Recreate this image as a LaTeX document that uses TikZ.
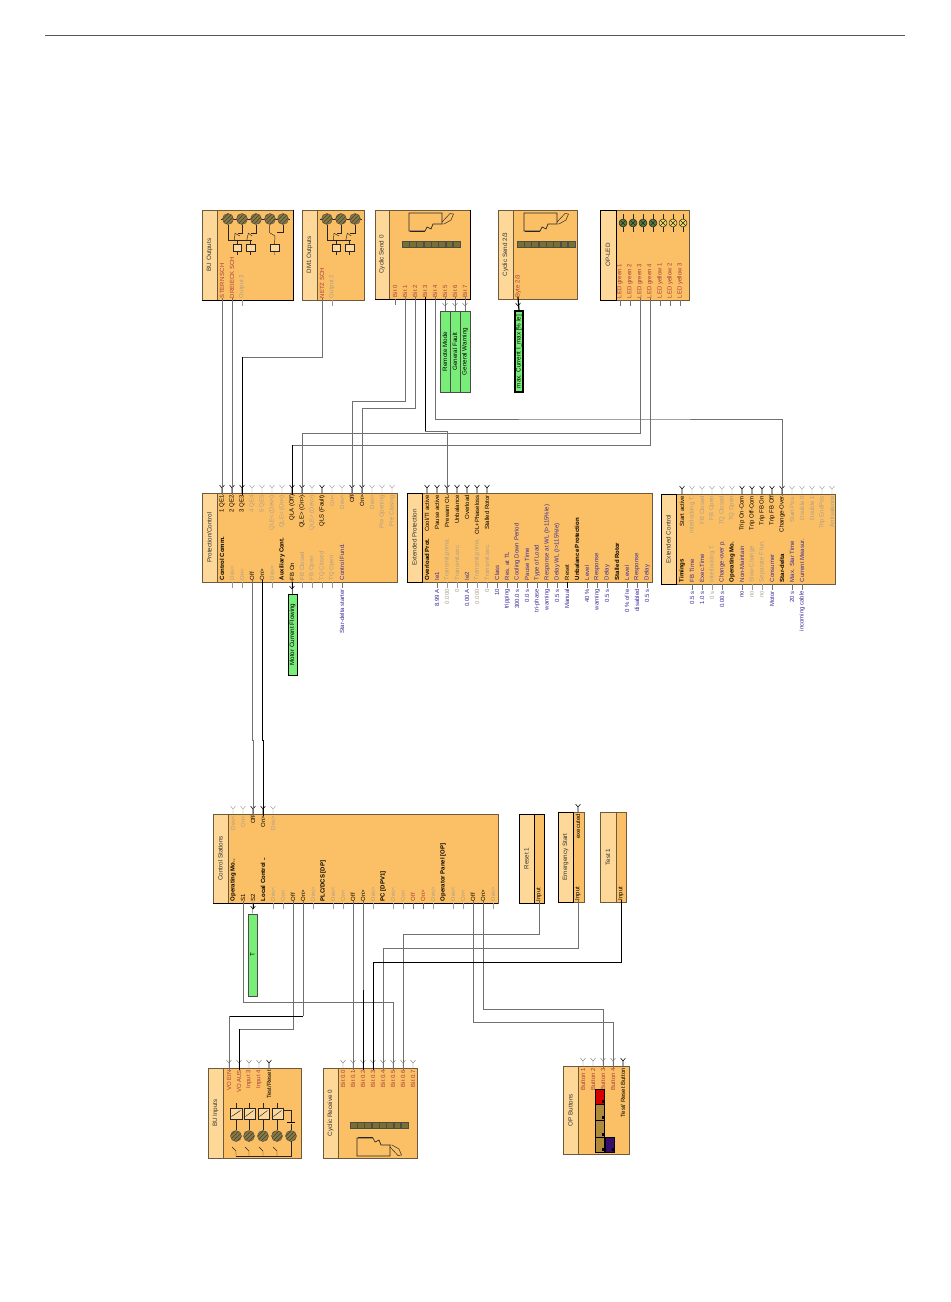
\documentclass[tikz,border=0pt]{standalone}
\usepackage{fontspec}
\setmainfont{Liberation Sans}
\usetikzlibrary{patterns}

\definecolor{bodyfill}{HTML}{FBC066}
\definecolor{stripfill}{HTML}{FDD898}
\definecolor{edgebr}{HTML}{6E5A3A}
\definecolor{flagfill}{HTML}{78EE78}
\definecolor{redlab}{HTML}{A83C3C}
\definecolor{bluelab}{HTML}{3A2A96}
\definecolor{greylab}{HTML}{AC9E8A}
\definecolor{wiregrey}{HTML}{707070}
\definecolor{relayfill}{HTML}{8C7A3C}
\definecolor{bitfill}{HTML}{77702E}
\definecolor{btnfill}{HTML}{B08A3C}
\definecolor{btnpurple}{HTML}{35106A}
\definecolor{ledgreen}{HTML}{5A7A3A}
\definecolor{ledyellow}{HTML}{F2D860}

% ports at the top edge of a block: prefix, edge, x/label/style
\newcommand{\topports}[3]{
  \foreach \x/\lb/\cl in {#3}{
    \node[lab,\cl,anchor=east] (#1\x) at (\x,#2+2) {\lb};
    \draw[pin\cl] (\x,#2) -- (\x,#2-5) -- +(-2.5,-3) (\x,#2-5) -- +(2.5,-3);
  }
}
% ports at the bottom edge of a block
\newcommand{\lowports}[3]{
  \foreach \x/\lb/\cl in {#3}{
    \node[lab,\cl,anchor=west] (#1\x) at (\x,#2-2) {\lb};
    \draw[pin\cl] (\x,#2) -- (\x,#2+6);
  }
}
% parameter values below a block
\newcommand{\valports}[3]{
  \foreach \x/\vl/\cl in {#3}
    \node[lab,\cl,anchor=east] (#1\x) at (\x,#2+7) {\vl};
}
\newcommand{\pinv}[3]{\draw[#3] (#1,#2) -- +(-2.5,-3) (#1,#2) -- +(2.5,-3);}

\begin{document}
\begin{tikzpicture}[
  x=.75pt,
  y=-.75pt,
  lab/.style={rotate=90, inner sep=0, outer sep=0, font=\fontsize{4.5}{5}\selectfont},
  title/.style={rotate=90, inner sep=0, text=black!80, font=\fontsize{4.7}{5}\selectfont},
  dk/.style={text=black},
  hd/.style={text=black, font=\fontsize{4.5}{5}\selectfont\bfseries},
  gy/.style={text=greylab},
  rd/.style={text=redlab},
  bl/.style={text=bluelab},
  pindk/.style={draw=black, line width=.4pt},
  pingy/.style={draw=black!40, line width=.3pt},
  pinrd/.style={draw=black!55, line width=.3pt},
  pinbl/.style={draw=black!55, line width=.3pt},
  pinhd/.style={draw=none},
  wire/.style={draw=wiregrey, line width=.5pt},
  wirek/.style={draw=black, line width=.7pt},
  flag/.style={draw=black!70, fill=flagfill, rotate=90, inner sep=0, line width=.5pt,
    font=\fontsize{4.7}{5}\selectfont},
  icon/.style={draw=black!85, line width=.35pt},
  relay/.style={draw=black!70, line width=.3pt, preaction={fill=relayfill},
    pattern=north east lines, pattern color=black!75},
  coil/.style={icon, fill=stripfill}
  ]

  \useasboundingbox (0,0) rectangle (950,1302);
  \draw[black!65, line width=.6pt] (45,35) -- (905,35);

  % blocks: name/left/divider/right/top/bottom/edge/title
  \foreach \nm/\xa/\xb/\xc/\ya/\yb/\ed/\ttl in {
    bo/202/217/293/210/300/edgebr/BU Outputs,
    dm/302/317/364/210/300/edgebr/DM1 Outputs,
    cs/375/389/470/210/299/edgebr/Cyclic Send 0,
    cc/498/513/577/210/299/edgebr/{Cyclic Send 2/3},
    ol/600/616/689/210/300/black/OP-LED,
    pc/202/217/397/493/582/edgebr/{Protection/Control},
    ep/407/422/652/493/582/black/Extended Protection,
    ec/661/676/835/494/584/black/Extended Control,
    st/213/228/498/814/903/edgebr/Control Stations,
    rs/519/534/544/814/903/black/Reset 1,
    es/558/573/584/812/902/black/Emergency Start,
    ts/600/616/626/812/902/edgebr/Test 1,
    ib/208/223/301/1068/1158/edgebr/BU Inputs,
    cr/323/338/417/1068/1158/edgebr/Cyclic Receive 0,
    ob/563/578/629/1066/1154/edgebr/OP Buttons}{
    \draw[edgebr, fill=bodyfill, line width=.5pt] (\xa,\ya) rectangle (\xc,\yb);
    \draw[\ed, fill=stripfill, line width=.5pt] (\xa,\ya) rectangle (\xb,\yb);
    \node[title] (\nm) at ({(\xa+\xb)/2},{(\ya+\yb)/2}) {\ttl};
  }
  \draw[black, line width=.5pt] (519,814) rectangle (544,903);
  \draw[black, line width=.6pt] (213,903) -- (498,903);
  \draw[black, line width=.5pt] (293,210) -- (293,300) -- (202,300);
  \draw[black, line width=.5pt] (470,210) -- (470,299) -- (375,299);

  % ports
  \lowports{bo}{300}{222/STERN SCH/rd,232/DREIECK SCH/rd,242/Output 3/gy}
  \lowports{dm}{300}{322/NETZ SCH/rd,332/Output 2/gy}
  \lowports{cs}{299}{395/Bit 0/rd,405/Bit 1/rd,415/Bit 2/rd,425/Bit 3/rd,435/Bit 4/rd,445/Bit 5/rd,455/Bit 6/rd,465/Bit 7/rd}
  \lowports{cc}{299}{518/{Byte 2/3}/rd}
  \lowports{ol}{300}{620/LED green 1/rd,630/LED green 2/rd,640/LED green 3/rd,650/LED green 4/rd,660/LED yellow 1/rd,670/LED yellow 2/rd,680/LED yellow 3/rd}

  \topports{pc}{493}{222/1 QE1/dk,232/2 QE2/dk,242/3 QE3/dk,252/4 QE4/gy,262/5 QE5/gy,272/QLE< (Dev<)/gy,282/QLE< (On<)/gy,292/QLA (Off)/dk,302/QLE> (On>)/dk,312/QLE> (Dev>)/gy,322/QLS (Fault)/dk,332/On</gy,342/Dev</gy,352/Off/dk,362/On>/dk,372/Dev>/gy,382/Pre Opening/gy,392/Pre Closing/gy}
  \lowports{pd}{582}{222/Control Comm./hd,232/Dev</gy,242/On</gy,252/Off/dk,262/On>/dk,272/Dev>/gy,282/Auxiliary Cont./hd,292/FB On/dk,302/FB Closed/gy,312/FB Open/gy,322/TQ Closed/gy,332/TQ Open/gy,342/Control Fund./bl}
  \valports{pv}{582}{342/Star-delta starter/bl}

  \topports{ep}{493}{427/{Cool/TI active}/dk,437/Pause active/dk,447/Prewarn OL/dk,457/Unbalance/dk,467/Overload/dk,477/OL+Phaseloss/dk,487/Stalled Rotor/dk}
  \lowports{eq}{582}{427/Overload Prot./hd,437/Ie1/bl,447/Transmit.prima./gy,457/Transmit.sec./gy,467/Ie2/bl,477/Transmit.prima./gy,487/Transmit.sec./gy,497/Class/bl,507/Res. at TL/bl,517/Cooling Down Period/bl,527/Pause Time/bl,537/Type of Load/bl,547/Response at WL (I>115\%Ie)/bl,557/Delay WL (I>115\%Ie)/bl,567/Reset/dk,577/Unbalance Protection/hd,587/Level/bl,597/Response/bl,607/Delay/bl,617/Stalled Rotor/hd,627/Level/bl,637/Response/bl,647/Delay/bl}
  \valports{ev}{582}{437/8.99 A/bl,447/0.000/gy,457/0/gy,467/0.00 A/bl,477/0.000/gy,487/0/gy,497/10/bl,507/tripping/bl,517/300.0 s/bl,527/0.0 s/bl,537/tri-phase/bl,547/warning/bl,557/0.5 s/bl,567/Manual/bl,587/40 \%/bl,597/warning/bl,607/0.5 s/bl,627/0 \% of Ie/bl,637/disabled/bl,647/0.5 s/bl}

  \topports{ec}{494}{682/Start active/dk,692/Interlocking T./gy,702/FB Closed/gy,712/FB Open/gy,722/TQ Closed/gy,732/TQ Open/gy,742/Trip On-Com/dk,752/Trip Off-Com/dk,762/Trip FB On/dk,772/Trip FB Off/dk,782/Change-Over/dk,792/Start Pos./gy,802/Double 0/gy,812/Double 1/gy,822/Trip EndPos/gy,832/Antivalence/gy}
  \lowports{ed}{584}{682/Timings/hd,692/FB Time/bl,702/Exec.Time/bl,712/Interlocking T./gy,722/Change-over p./bl,732/Operating Mo./hd,742/Non-Maintain/bl,752/Slow-Change/gy,762/Separate F fun./gy,772/Consumer/bl,782/Star-delta/hd,792/Max. Star Time/bl,802/Current Measur./bl}
  \valports{ew}{584}{692/0.5 s/bl,702/1.0 s/bl,712/0 s/gy,722/0.00 s/bl,742/no/bl,752/no/gy,762/no/gy,772/Motor/bl,792/20 s/bl,802/incoming cable/bl}

  \topports{su}{814}{233/Dev</gy,243/On</gy,253/Off/dk,263/On>/dk,273/Dev>/gy}
  \lowports{st}{903}{233/Operating Mo../hd,243/S1/dk,253/S2/dk,263/Local Control ../hd,273/Dev</gy,283/On</gy,293/Off/dk,303/On>/dk,313/Dev>/gy,323/{PLC/DCS [DP]}/hd,333/Dev</gy,343/On</gy,353/Off/dk,363/On>/dk,373/Dev>/gy,383/PC [DPV1]/hd,393/Dev</gy,403/On</gy,413/Off/rd,423/On>/rd,433/Dev>/gy,443/Operator Panel [OP]/hd,453/Dev</gy,463/On</gy,473/Off/dk,483/On>/dk,493/Dev>/gy}

  \lowports{rs}{903}{539/Input/dk}
  \lowports{es}{902}{578/Input/dk}
  \topports{eu}{812}{578/executed/dk}
  \lowports{ts}{902}{621/Input/dk}

  \topports{ib}{1068}{229/VO EIN/rd,239/VO AUS/rd,249/Input 3/rd,259/Input 4/rd,269/{Test/Reset}/dk}
  \topports{cr}{1068}{343/Bit 0.0/rd,353/Bit 0.1/rd,363/Bit 0.2/rd,373/Bit 0.3/rd,383/Bit 0.4/rd,393/Bit 0.5/rd,403/Bit 0.6/rd,413/Bit 0.7/rd}
  \topports{ob}{1066}{583/Button 1/rd,593/Button 2/rd,603/Button 3/rd,613/Button 4/rd,623/{Test/ Reset Button}/dk}

  % green signal flags
  \node[flag, minimum width=60.75pt, minimum height=7.5pt] (remote) at (445,351.5) {Remote Mode};
  \node[flag, minimum width=60.75pt, minimum height=7.5pt] (fault) at (455,351.5) {General Fault};
  \node[flag, minimum width=60.75pt, minimum height=7.5pt] (warning) at (465,351.5) {General Warning};
  \node[flag, draw=black, line width=.8pt, minimum width=60.75pt, minimum height=6pt] (maxcur) at (519,351.5) {max. Current I\_max [\% Ie]};
  \node[flag, draw=black, minimum width=60.75pt, minimum height=6.75pt] (motor) at (292.5,634.5) {Motor Current Flowing};
  \node[flag, minimum width=61.5pt, minimum height=6.75pt] (tflag) at (252.5,955) {T};

  \path[pinrd] (cs445.west) edge (remote.east) (cs455.west) edge (fault.east) (cs465.west) edge (warning.east);
  \pinv{445}{306}{pinrd} \pinv{455}{306}{pinrd} \pinv{465}{306}{pinrd}
  \draw[black, line width=.9pt] (cc518.west) -- (maxcur.east);
  \pinv{518}{306}{pindk}
  \draw[pindk] (pd292.west) -- (motor.east);
  \pinv{292}{589}{pindk}
  \draw[pinrd] (st253.west) -- (tflag.east);
  \pinv{253}{909}{pindk}

  % upper connectors
  \draw[wire] (bo222.west) -- (pc222.east);
  \draw[wire] (bo232.west) -- (pc232.east);
  \coordinate (netzbend) at (242,357);
  \draw[wire] (dm322.west) |- (netzbend);
  \draw[wirek] (netzbend) -- (pc242.east);
  \draw[wire] (cs405.west) |- (352,401) -- (pc352.east);
  \draw[wire] (cs415.west) |- (362,408) -- (pc362.east);
  \coordinate (bitbend) at (425,431);
  \draw[wirek] (cs425.west) -- (bitbend);
  \draw[wire] (bitbend) -| (ep447.east);
  \draw[wire] (cs435.west) |- (600,419) -| (ec782.east);
  \draw[wire] (ol640.west) |- (302,433) -- (pc302.east);
  \coordinate (ledbend) at (292,445);
  \draw[wire] (ol650.west) |- (ledbend);
  \draw[wirek] (ledbend) -- (pc292.east);

  % middle connectors
  \draw[wire] (pd252.west) |- (253,740) -- (su253.east);
  \draw[wirek] (pd262.west) |- (263,740) -- (su263.east);

  % lower connectors
  \draw[wire] (st243.west) |- (393,1002) -- (cr393.east);
  \coordinate (offbend) at (239,1029);
  \draw[wire] (st293.west) |- (offbend);
  \draw[wirek] (offbend) -- (ib239.east);
  \coordinate (onbend) at (303,1016);
  \coordinate (onbendb) at (229,1016);
  \draw[wire] (st303.west) -- (onbend);
  \draw[wirek] (onbend) -- (onbendb);
  \draw[wire] (onbendb) -- (ib229.east);
  \draw[wire] (st353.west) -- (cr353.east);
  \coordinate (onkink) at (363,990);
  \draw[wire] (st363.west) -- (onkink);
  \draw[wirek] (onkink) -- (cr363.east);
  \draw[wire] (st473.west) |- (540,1022) -| (ob613.east);
  \draw[wire] (st483.west) |- (540,1009) -| (ob603.east);
  \draw[wire] (rs539.west) |- (500,934) -| (cr403.east);
  \draw[wire] (es578.west) |- (500,948) -| (cr383.east);
  \draw[wirek] (ts621.west) |- (500,962) -| (cr373.east);

  % relay circles of BU and DM1 outputs
  \foreach \x in {228,242,256,270,283,327,341,355}{
    \draw[icon] (\x-7,219) -- (\x+7,219);
    \draw[relay] (\x,219) circle (5.5);
  }
  \foreach \dx in {0,99}{
    \begin{scope}[shift={(\dx,0)}]
      \draw[icon] (228.3,225) -- (228.3,240.7) -- (252.3,240.7);
      \draw[icon] (234.3,240.7) -- (235,233.3) -- (240,236);
      \draw[icon] (246.7,240.7) -- (248.3,233.3) -- (252.3,236);
      \draw[icon] (242.3,225) -- (242.3,233.3) -- (238,233.3);
      \draw[icon] (256,225) -- (256,233.3) -- (251,233.3);
      \draw[coil] (233.3,244.3) rectangle (241.7,251);
      \draw[coil] (246,244.3) rectangle (255,251);
      \draw[icon] (237.7,240.7) -- (237.7,244.3) (237.7,251) -- (237.7,255);
      \draw[icon] (250.5,240.7) -- (250.5,244.3) (250.5,251) -- (250.5,255);
    \end{scope}
  }
  \draw[coil] (270,244.3) rectangle (279,251);
  \draw[icon] (269.7,225) -- (269.7,232.7) -- (275,236) -- (274.5,244.3) (274.5,251) -- (274.5,255);
  \draw[icon] (283.3,225) -- (283.3,232.3) -- (276.7,232.3);

  % cyclic gear: card, hand and row of bits
  \foreach \cx/\cy/\fl in {431/244/1,546/244/1,379/1125/-1}{
    \begin{scope}[shift={(\cx,\cy)},yscale=\fl]
      \draw[icon, line width=.5pt] (-22,-31) -- (11,-31) -- (11,-20) -- (2,-20) -- (0,-15) -- (-4,-17) -- (-6,-13) -- (-22,-13) -- cycle;
      \draw[icon, line width=.9pt] (-21,-12.5) -- (-6,-12.5);
      \draw[icon] (11,-22) -- (19,-30.5) -- (22.5,-30) -- (20,-24) -- (13,-20) -- (11,-20);
      \foreach \i in {0,...,7}
        \draw[draw=black!70, fill=bitfill, line width=.3pt] (-29+7.3*\i,-3) rectangle +(6.8,6);
    \end{scope}
  }

  % OP-LED lamps
  \foreach \x/\lamp in {623/ledgreen,633/ledgreen,643/ledgreen,653/ledgreen,663/ledyellow,673/ledyellow,683/ledyellow}{
    \draw[icon] (\x,214) -- (\x,232);
    \draw[icon, fill=\lamp] (\x,223) circle (4);
    \draw[icon] (\x-2.8,220.2) -- (\x+2.8,225.8) (\x-2.8,225.8) -- (\x+2.8,220.2);
  }

  % BU inputs
  \foreach \x/\xa/\xb/\lw in {236/230/242/.7pt,249/244/255/.7pt,263/258/269/.35pt,277/272/283/.35pt}{
    \draw[icon] (\x,1103) -- (\x,1130);
    \draw[coil, line width=\lw] (\xa,1108) rectangle (\xb,1119);
    \draw[icon] (\xa+1.5,1116.5) -- (\xb-1.5,1110.5);
    \draw[icon] (\x-4,1147) -- (\x,1151) -- (\x,1156);
  }
  \foreach \x in {236,249,263,277,291}
    \draw[relay] (\x,1136) circle (5.5);
  \draw[icon, line width=.5pt] (236,1156) -- (291,1156) -- (291,1141);
  \draw[icon] (283,1110.7) -- (291,1110.7) -- (291,1122) (291,1124) -- (291,1130);
  \draw[black, line width=.9pt] (287,1122.5) -- (295,1122.5);

  % OP buttons
  \foreach \xa/\ya/\yb/\btn in {595/1089/1104/red!85!black,595/1104/1120/btnfill,595/1120/1137/btnfill,595/1137/1152/btnfill,605/1137/1152/btnpurple}{
    \draw[black, fill=\btn, line width=.3pt] (\xa,\ya) rectangle (\xa+9.5,\yb);
    \fill[black] (\xa+6.5,\yb-4) rectangle (\xa+9,\yb-1);
  }
\end{tikzpicture}
\end{document}
